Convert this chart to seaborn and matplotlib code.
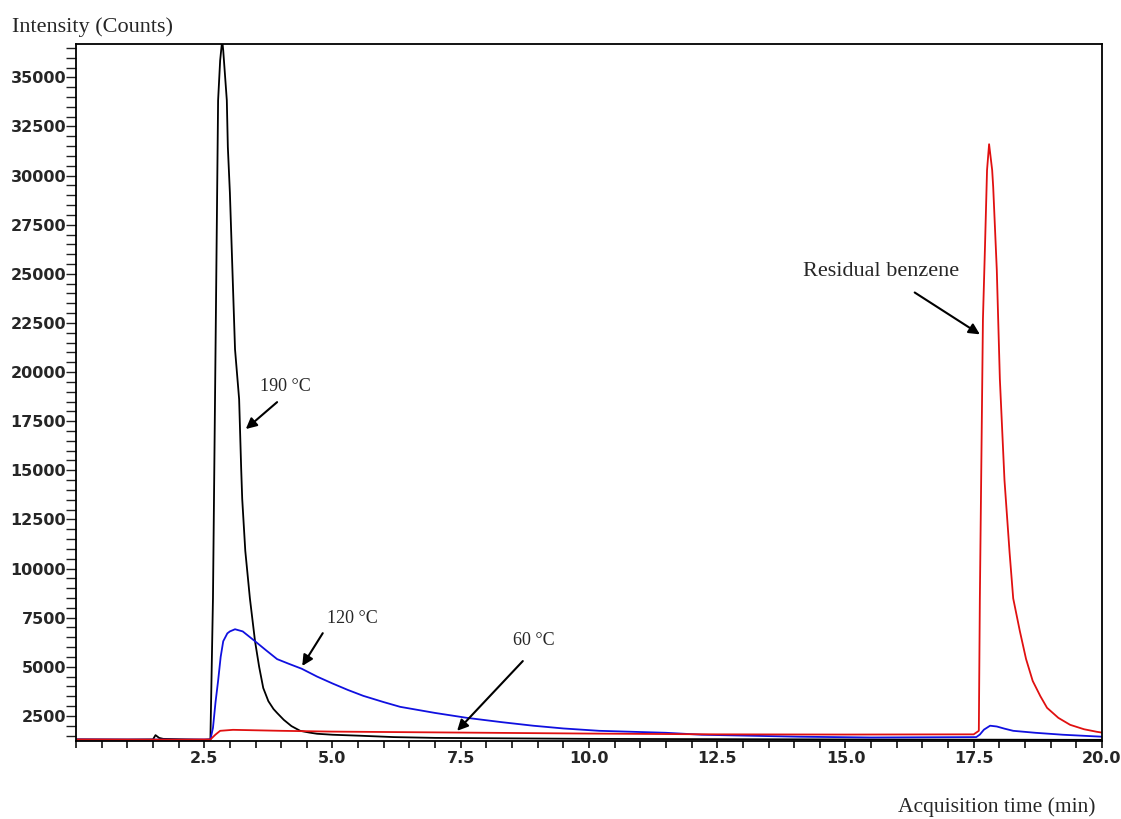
import pandas as pd
import seaborn as sns
import matplotlib.pyplot as plt
from matplotlib.ticker import MultipleLocator

# 190 °C trace (black)
t_190 = [0.0, 1.0, 1.50, 1.55, 1.62, 1.70, 2.50, 2.62, 2.67, 2.77, 2.81, 2.85, 2.87,
         2.94, 2.96, 3.00, 3.10, 3.18, 3.22, 3.24, 3.30, 3.39, 3.49, 3.57, 3.65,
         3.75, 3.85, 3.92, 4.05, 4.20, 4.37, 4.55, 4.70, 5.00, 5.54, 6.2, 7.0,
         10.0, 15.0, 20.0]
i_190 = [1300, 1290, 1300, 1520, 1380, 1330, 1280, 1300, 8480, 33830, 35860, 36900, 36370,
         33830, 31450, 29120, 21160, 18620, 15080, 13550, 10900, 8480, 6300, 5000, 3920,
         3250, 2850, 2650, 2300, 1980, 1740, 1650, 1590, 1540, 1490, 1420, 1380,
         1330, 1300, 1280]

# 120 °C trace (blue)
t_120 = [0.0, 2.0, 2.62, 2.67, 2.72, 2.77, 2.82, 2.87, 2.95, 3.00, 3.10, 3.25, 3.49,
         3.70, 3.92, 4.15, 4.40, 4.70, 5.00, 5.30, 5.60, 6.00, 6.32, 7.00, 7.62,
         8.30, 8.91, 9.50, 10.2, 11.5, 12.2, 14.1, 15.5, 17.55, 17.62, 17.70, 17.82,
         17.95, 18.10, 18.27, 18.70, 19.24, 20.0]
i_120 = [1300, 1290, 1300, 1890, 3200, 4280, 5500, 6300, 6700, 6800, 6910, 6800, 6300,
         5850, 5390, 5150, 4900, 4500, 4150, 3820, 3520, 3200, 2960, 2650, 2400,
         2180, 2000, 1860, 1740, 1640, 1540, 1440, 1400, 1420, 1550, 1800, 2000,
         1960, 1850, 1740, 1640, 1540, 1440]

# 60 °C trace (red)
t_60 = [0.0, 2.0, 2.62, 2.72, 2.81, 3.06, 4.0, 5.0, 7.5, 10.0, 12.5, 15.0, 17.5, 17.60,
        17.62, 17.68, 17.72, 17.76, 17.80, 17.86, 17.88, 17.95, 18.01, 18.10, 18.20,
        18.27, 18.40, 18.52, 18.65, 18.80, 18.93, 19.15, 19.38, 19.65, 19.90, 20.0]
i_60 = [1300, 1290, 1300, 1550, 1740, 1790, 1740, 1700, 1650, 1600, 1560, 1550, 1560, 1740,
        8480, 22680, 26380, 30280, 31600, 30280, 29420, 25210, 19640, 14500, 10800,
        8480, 6810, 5400, 4280, 3500, 2910, 2400, 2045, 1820, 1690, 1650]

series = ['190 °C', '120 °C', '60 °C']
colors = {'190 °C': '#000000', '120 °C': '#1010e0', '60 °C': '#e01010'}

df = pd.concat([
    pd.DataFrame({'time': t_190, 'counts': i_190, 'temp': '190 °C'}),
    pd.DataFrame({'time': t_120, 'counts': i_120, 'temp': '120 °C'}),
    pd.DataFrame({'time': t_60, 'counts': i_60, 'temp': '60 °C'}),
])

sns.set_style("white")
serif = ['Liberation Serif', 'DejaVu Serif']

fig = plt.figure(figsize=(11.21, 8.19), dpi=100)
ax = fig.add_axes([0.0678, 0.0952, 0.9152, 0.8511])

sns.lineplot(data=df, x='time', y='counts', hue='temp', hue_order=series,
             palette=colors, estimator=None, sort=False, linewidth=1.3,
             legend=False, ax=ax)

ax.set_xlim(0, 20)
ax.set_ylim(1220, 36700)
ax.set_xticks([2.5, 5, 7.5, 10, 12.5, 15, 17.5, 20])
ax.set_xticklabels(['2.5', '5.0', '7.5', '10.0', '12.5', '15.0', '17.5', '20.0'])
ax.set_yticks(list(range(2500, 36000, 2500)))
ax.set_yticklabels([str(v) for v in range(2500, 36000, 2500)])
ax.xaxis.set_minor_locator(MultipleLocator(0.5))
ax.yaxis.set_minor_locator(MultipleLocator(500))

ax.tick_params(axis='both', which='both', direction='out', color='#222222',
               bottom=True, left=True, top=False, right=False)
ax.tick_params(axis='x', which='major', length=5, width=1.3, pad=2, labelsize=11.5)
ax.tick_params(axis='x', which='minor', length=5, width=1.3)
ax.tick_params(axis='y', which='major', length=7, width=1, pad=0, labelsize=11.5)
ax.tick_params(axis='y', which='minor', length=7, width=1)
for lbl in ax.get_xticklabels() + ax.get_yticklabels():
    lbl.set_fontweight('bold')

for s in ax.spines.values():
    s.set_color('black')
    s.set_linewidth(1.3)

ax.set_xlabel('')
ax.set_ylabel('')
fig.text(0.011, 0.967, 'Intensity (Counts)', family=serif, fontsize=16,
         ha='left', va='center')
fig.text(0.977, 0.014, 'Acquisition time (min)', family=serif, fontsize=15.5,
         ha='right', va='center')

arrow = dict(arrowstyle='-|>', color='black', lw=1.5, mutation_scale=16,
             shrinkA=0, shrinkB=0)
ax.text(3.59, 19290, '190 °C', family=serif, fontsize=13, ha='left', va='center')
ax.annotate('', xy=(3.31, 17100), xytext=(3.92, 18470), arrowprops=arrow)
ax.text(5.38, 7470, '120 °C', family=serif, fontsize=13, ha='center', va='center')
ax.annotate('', xy=(4.41, 5040), xytext=(4.81, 6710), arrowprops=arrow)
ax.text(8.93, 6350, '60 °C', family=serif, fontsize=13, ha='center', va='center')
ax.annotate('', xy=(7.43, 1740), xytext=(8.71, 5290), arrowprops=arrow)
ax.text(15.69, 25110, 'Residual benzene', family=serif, fontsize=16,
        ha='center', va='center')
ax.annotate('', xy=(17.62, 21920), xytext=(16.35, 24050), arrowprops=arrow)

fig.savefig('out.png', dpi=100, facecolor='white')
